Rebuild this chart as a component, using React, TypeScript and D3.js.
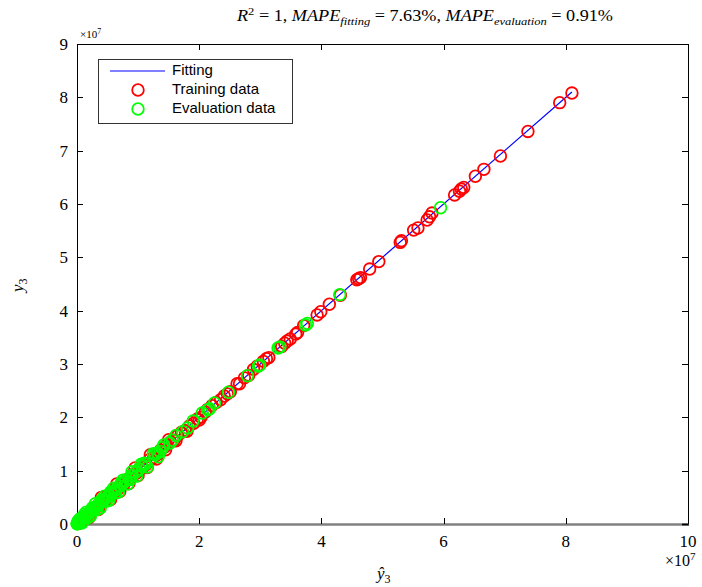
import React from "react";
import * as d3 from "d3";

// values in units of 1e7
const trainX = [8.10,7.90,7.38,6.93,6.66,6.52,6.33,6.29,6.26,6.18,5.81,5.77,5.73,5.58,5.51,5.31,5.29,4.94,4.79,4.64,4.61,4.58,4.31,4.13,3.99,3.93,3.71,3.61,3.58,3.49,3.44,3.40,3.35,3.14,3.10,3.05,2.95,2.89,2.81,2.74,2.66,2.62,2.51,2.46,2.41,2.35,2.28,2.21,2.14,2.10,2.03,1.97,1.91,1.84,1.77,1.71,1.65,1.59,1.53,1.47,1.43,1.37,1.31,1.25,1.19,1.13,1.07,1.02,0.97,0.91,0.86,0.81,0.77,0.72,0.67,0.63,0.59,0.55,0.51,0.47,0.43,0.39,0.36,0.33,0.30,0.27,0.24,0.21,0.18,0.16,0.14,0.12,0.10,0.08,0.06,0.05,0.04,0.03,0.02,0.01,
  0.20,0.35,0.55,0.70,0.85,1.00,1.15,1.30,1.45,0.40,0.65,0.95,1.20,1.50,1.62,1.80,2.00];
const trainY = [8.08,7.90,7.36,6.90,6.65,6.52,6.31,6.28,6.24,6.17,5.83,5.76,5.70,5.55,5.51,5.31,5.28,4.92,4.78,4.62,4.60,4.58,4.29,4.12,3.98,3.92,3.72,3.59,3.56,3.47,3.43,3.39,3.33,3.12,3.10,3.05,2.96,2.90,2.79,2.74,2.63,2.63,2.48,2.44,2.40,2.33,2.28,2.22,2.15,2.10,2.00,1.97,1.89,1.84,1.75,1.72,1.66,1.57,1.54,1.48,1.44,1.39,1.30,1.24,1.21,1.11,1.05,1.03,0.95,0.93,0.84,0.83,0.75,0.74,0.65,0.65,0.57,0.57,0.49,0.49,0.41,0.41,0.35,0.34,0.29,0.28,0.23,0.22,0.17,0.17,0.13,0.13,0.09,0.09,0.05,0.06,0.03,0.04,0.01,0.02,
  0.12,0.27,0.46,0.61,0.76,0.91,1.06,1.22,1.39,0.50,0.75,1.05,1.30,1.58,1.56,1.74,1.95];

const evalX = [5.95,4.30,3.77,3.74,3.32,3.29,2.99,2.97,2.79,2.48,2.17,2.14,1.81,1.73,1.56,1.52,1.36,1.32,1.28,1.12,1.07,1.02,0.96,0.90,0.85,0.80,0.75,0.70,0.65,0.61,0.57,0.53,0.49,0.45,0.42,0.38,0.35,0.32,0.29,0.26,0.23,0.20,0.18,0.16,0.14,0.12,0.10,0.08,0.07,0.06,0.05,0.04,0.03,0.025,0.02,0.015,0.01,0.007,0.004,0.002,
  0.05,0.10,0.15,0.22,0.30,0.38,0.45,0.52,0.60,0.68,0.75,0.83,0.90,0.98,1.05,1.15,1.25,1.33,1.42,1.62,1.90,2.05,2.25,
  0.02,0.08,0.12,0.18,0.25,0.33,0.40,0.48,0.55,0.63,0.72,0.88,1.10,1.40];
const evalY = [5.93,4.30,3.76,3.73,3.32,3.30,2.98,2.96,2.78,2.47,2.16,2.14,1.80,1.73,1.57,1.52,1.36,1.33,1.30,1.12,1.08,1.03,0.97,0.91,0.86,0.81,0.76,0.71,0.66,0.62,0.58,0.54,0.50,0.46,0.43,0.39,0.36,0.33,0.30,0.27,0.24,0.21,0.19,0.17,0.15,0.13,0.11,0.09,0.08,0.07,0.06,0.05,0.04,0.03,0.025,0.02,0.015,0.01,0.006,0.003,
  0.10,0.05,0.22,0.15,0.38,0.30,0.52,0.44,0.67,0.60,0.82,0.75,0.98,0.90,1.12,1.07,1.32,1.26,1.48,1.66,1.93,2.08,2.27,
  0.06,0.02,0.18,0.12,0.30,0.27,0.45,0.43,0.60,0.58,0.77,0.84,1.14,1.43];

const fitX = [0, 8.1];
const fitY = [0, 8.1];

const xTicks = [0, 2, 4, 6, 8, 10];
const yTicks = [0, 1, 2, 3, 4, 5, 6, 7, 8, 9];

const legendItems = ["Fitting", "Training data", "Evaluation data"];

const L = 77, R = 688, T = 44, B = 524;
const serif = "'Liberation Serif', 'DejaVu Serif', serif";
const sans = "'Liberation Sans', Arial, sans-serif";

export default function App() {
  const x = d3.scaleLinear().domain([0, 10]).range([L, R]);
  const y = d3.scaleLinear().domain([0, 9]).range([B, T]);
  const line = d3.line<number>().x((d, i) => x(fitX[i])).y((d, i) => y(fitY[i]));
  const tl = 6;
  const mr = 5.8;
  const msw = 1.8;
  return (
    <svg width={702} height={587} style={{ position: "absolute", left: 0, top: 0, background: "#fff" }}>
      <rect x={0} y={0} width={702} height={587} fill="#fff" />
      {/* title */}
      <text x={237} y={21} fontFamily={serif} fontSize={16} fill="#000" textLength={376} lengthAdjust="spacingAndGlyphs">
        <tspan fontStyle="italic">R</tspan>
        <tspan fontSize={11} dy={-6}>2</tspan>
        <tspan dy={6}> = 1, </tspan>
        <tspan fontStyle="italic">MAPE</tspan>
        <tspan fontStyle="italic" fontSize={11} dy={4}>fitting</tspan>
        <tspan dy={-4}> = 7.63%, </tspan>
        <tspan fontStyle="italic">MAPE</tspan>
        <tspan fontStyle="italic" fontSize={11} dy={4}>evaluation</tspan>
        <tspan dy={-4}> = 0.91%</tspan>
      </text>

      {/* axes box */}
      <line x1={L} y1={T + 0.5} x2={R + 1} y2={T + 0.5} stroke="#000" strokeWidth={1} />
      <line x1={L + 0.5} y1={T} x2={L + 0.5} y2={B} stroke="#000" strokeWidth={1} />
      <line x1={R + 0.5} y1={T} x2={R + 0.5} y2={B + 1} stroke="#000" strokeWidth={1} />
      <line x1={L} y1={B + 0.5} x2={682} y2={B + 0.5} stroke="#808080" strokeWidth={2.5} />
      <line x1={682} y1={B + 0.5} x2={R + 1} y2={B + 0.5} stroke="#333" strokeWidth={2.5} />

      {xTicks.map((t) => (
        <g key={"xt" + t}>
          <line x1={Math.round(x(t)) + 0.5} x2={Math.round(x(t)) + 0.5} y1={B} y2={B - tl} stroke="#000" />
          <line x1={Math.round(x(t)) + 0.5} x2={Math.round(x(t)) + 0.5} y1={T} y2={T + tl} stroke="#000" />
          <text x={x(t)} y={547} textAnchor="middle" fontFamily={serif} fontSize={17} fill="#000">{t}</text>
        </g>
      ))}
      {yTicks.map((t) => (
        <g key={"yt" + t}>
          <line x1={L} x2={L + tl} y1={Math.round(y(t)) + 0.5} y2={Math.round(y(t)) + 0.5} stroke="#000" />
          <line x1={R} x2={R - tl} y1={Math.round(y(t)) + 0.5} y2={Math.round(y(t)) + 0.5} stroke="#000" />
          <text x={68} y={y(t) + 6} textAnchor="end" fontFamily={serif} fontSize={17} fill="#000">{t}</text>
        </g>
      ))}

      {/* exponent labels */}
      <text x={80} y={38} fontFamily={serif} fontSize={11} fill="#000">
        ×10<tspan fontSize={8} dy={-4}>7</tspan>
      </text>
      <text x={665} y={566} fontFamily={serif} fontSize={16} fill="#000">
        ×10<tspan fontSize={11} dy={-6}>7</tspan>
      </text>

      {/* axis labels */}
      <text x={377} y={579} fontFamily={serif} fontSize={17} fontStyle="italic" fill="#000">
        ŷ<tspan fontSize={12} dy={4} fontStyle="normal">3</tspan>
      </text>
      <text transform="translate(23,292) rotate(-90)" fontFamily={serif} fontSize={17} fontStyle="italic" fill="#000">
        y<tspan fontSize={12} dy={4} fontStyle="normal">3</tspan>
      </text>

      {/* data */}
      <path d={line(fitX) || ""} fill="none" stroke="#0000ff" strokeWidth={1.2} />
      {trainX.map((v, i) => (
        <circle key={"tr" + i} cx={x(v)} cy={y(trainY[i])} r={mr} fill="none" stroke="#ff0000" strokeWidth={msw} />
      ))}
      {evalX.map((v, i) => (
        <circle key={"ev" + i} cx={x(v)} cy={y(evalY[i])} r={mr} fill="none" stroke="#00ff00" strokeWidth={msw} />
      ))}

      {/* legend */}
      <rect x={98.5} y={59.5} width={194} height={64} fill="#fff" stroke="#333" strokeWidth={1} />
      <line x1={110} x2={165} y1={71} y2={71} stroke="#0000ff" strokeWidth={1} />
      <circle cx={138} cy={90} r={mr} fill="none" stroke="#ff0000" strokeWidth={msw} />
      <circle cx={138} cy={109} r={mr} fill="none" stroke="#00ff00" strokeWidth={msw} />
      {legendItems.map((s, i) => (
        <text key={s} x={172} y={75 + i * 19} fontFamily={sans} fontSize={15} fill="#000">{s}</text>
      ))}
    </svg>
  );
}
